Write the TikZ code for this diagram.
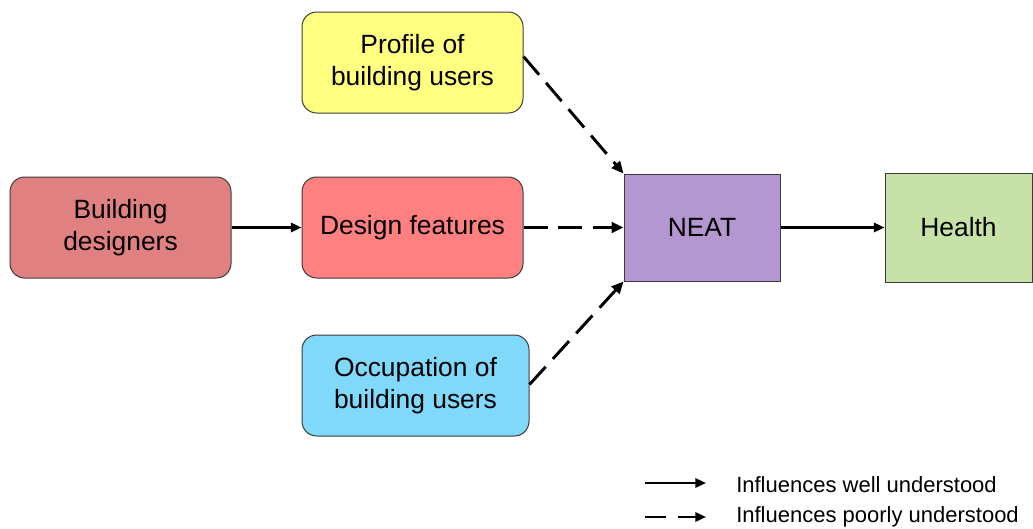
\documentclass[tikz,border=0pt]{standalone}
\usepackage{fontspec}
\setmainfont{Liberation Sans}
\usetikzlibrary{arrows.meta}
\definecolor{cdesigner}{RGB}{224,128,128}
\definecolor{cfeature}{RGB}{255,128,128}
\definecolor{cprofile}{RGB}{255,255,128}
\definecolor{coccup}{RGB}{128,216,250}
\definecolor{cneat}{RGB}{180,151,208}
\definecolor{chealth}{RGB}{198,226,166}
\definecolor{cborder}{RGB}{60,60,60}
\tikzset{
  box/.style={draw=cborder, line width=0.75pt, rounded corners=11pt, align=center,
    font=\fontsize{19.8}{24}\selectfont, inner sep=0pt},
  sqbox/.style={draw=cborder, line width=0.75pt, align=center,
    font=\fontsize{19.8}{24}\selectfont, inner sep=0pt},
  solidarrow/.style={line width=1.7pt, -{Triangle[length=8pt,width=7pt]}},
  dasharrow/.style={line width=2.2pt, dash pattern=on 18pt off 8pt, -{Triangle[length=9pt,width=8pt]}},
  legsolid/.style={line width=1.7pt, -{Triangle[length=8pt,width=7pt]}},
  legdash/.style={line width=1.7pt, dash pattern=on 16pt off 9pt, -{Triangle[length=8pt,width=7pt]}},
  legtext/.style={anchor=west, font=\fontsize{16.5}{20}\selectfont, inner sep=0pt}
}
\begin{document}
\begin{tikzpicture}[x=0.75pt, y=-0.75pt]
\useasboundingbox (0,0) rectangle (1033,529);
\node[box, fill=cdesigner, minimum width=165.75pt, minimum height=75.75pt] (bd) at (120.5,227.5) {Building\\designers};
\node[box, fill=cfeature, minimum width=165.75pt, minimum height=75.75pt] (df) at (412.5,227.5) {Design features};
\node[box, fill=cprofile, minimum width=165.75pt, minimum height=75.75pt] (pu) at (412.5,62.5) {Profile of\\building users};
\node[box, fill=coccup, minimum width=170.25pt, minimum height=75.75pt] (ou) at (415.5,385.5) {Occupation of\\building users};
\node[sqbox, fill=cneat, minimum width=117pt, minimum height=80.25pt] (neat) at (702,227.5) {NEAT};
\node[sqbox, fill=chealth, minimum width=110.25pt, minimum height=81.75pt] (health) at (958.5,227.5) {Health};

\path (pu.north east) ++(0,45) coordinate (pustart);
\path (ou.north east) ++(0,50) coordinate (oustart);

\draw[solidarrow] (bd.east) -- (df.west);
\draw[dasharrow] (df.east) -- (neat.west);
\draw[dasharrow] (pustart) -- (neat.north west);
\draw[dasharrow] (oustart) -- (neat.south west);
\draw[solidarrow] (neat.east) -- (health.west);

\coordinate (l1a) at (645,483);
\coordinate (l1b) at (706,483);
\coordinate (l2a) at (645,517);
\coordinate (l2b) at (706,517);
\draw[legsolid] (l1a) -- (l1b);
\draw[legdash] (l2a) -- (l2b);
\node[legtext] (t1) at (736,485) {Influences well understood};
\node[legtext] (t2) at (736,517) {Influences poorly understood};
\end{tikzpicture}
\end{document}
